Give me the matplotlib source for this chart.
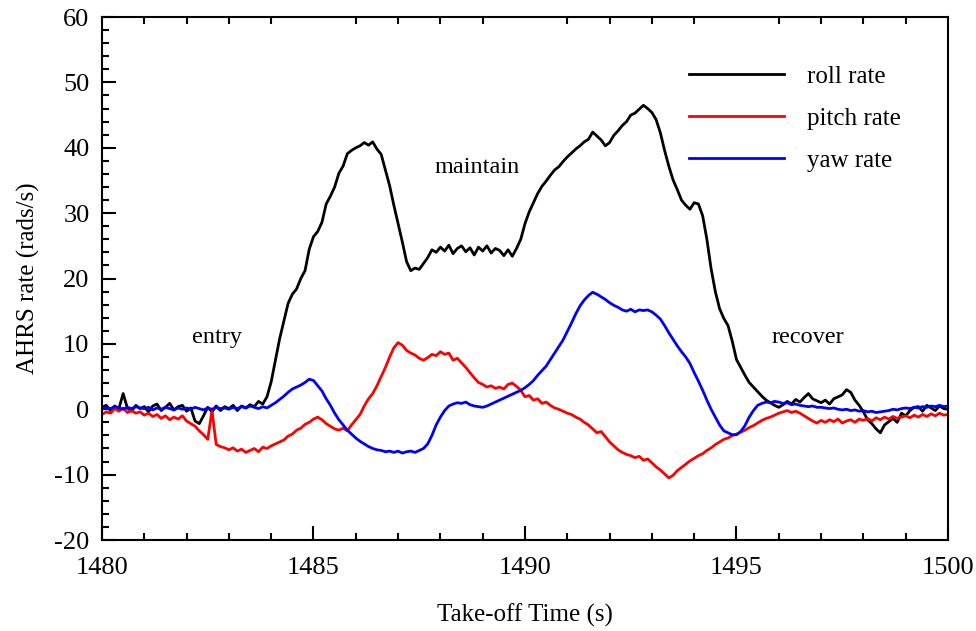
import numpy as np
import matplotlib
matplotlib.use('Agg')
import matplotlib.pyplot as plt
from matplotlib.ticker import MultipleLocator

# time axis, one reading every 0.1 s
t = np.round(np.arange(1480.0, 1500.05, 0.1), 1)

roll = [
    0.3, 0.6, -0.2, 0.5, 0.1, 2.4, 0.2, -0.3, 0.6, 0.1,
    0.4, -0.4, 0.5, 0.8, -0.2, 0.3, 0.9, -0.1, 0.4, 0.6,
    -0.3, 0.2, -1.8, -2.2, -1.0, 0.3, -0.4, 0.5, -0.2, 0.4,
    0.1, 0.6, -0.2, 0.5, 0.2, 0.7, 0.4, 1.2, 0.8, 1.9,
    4.2, 7.5, 10.8, 13.5, 16.2, 17.6, 18.4, 20.0, 21.2, 24.5,
    26.4, 27.2, 28.6, 31.4, 32.6, 34.0, 36.1, 37.2, 39.1, 39.6,
    40.0, 40.3, 40.8, 40.4, 40.9, 39.8, 39.0, 36.6, 34.2, 31.2,
    28.4, 25.6, 22.6, 21.2, 21.6, 21.4, 22.3, 23.2, 24.4, 24.0,
    24.8, 24.2, 25.1, 23.8, 24.6, 25.0, 24.1, 24.7, 23.6, 24.8,
    24.2, 25.0, 23.9, 24.6, 24.3, 23.5, 24.4, 23.4, 24.6, 26.0,
    28.4, 30.2, 31.6, 33.0, 34.1, 34.9, 35.8, 36.6, 37.1, 37.9,
    38.6, 39.2, 39.8, 40.3, 40.9, 41.3, 42.4, 41.8, 41.2, 40.3,
    40.8, 41.9, 42.6, 43.4, 44.0, 45.0, 45.3, 45.9, 46.5, 46.0,
    45.4, 44.3, 42.3, 39.6, 37.2, 35.1, 33.6, 32.0, 31.2, 30.6,
    31.6, 31.4, 29.6, 26.0, 21.5, 18.0, 15.4, 13.9, 12.8, 10.4,
    7.6, 6.4, 5.2, 4.1, 3.4, 2.7, 2.0, 1.4, 1.0, 0.6,
    0.3, 0.7, 1.2, 0.8, 1.5, 1.1, 1.8, 2.4, 1.6, 1.3,
    1.0, 1.4, 0.8, 1.6, 1.9, 2.2, 3.0, 2.6, 1.4, 0.6,
    -0.4, -1.6, -2.2, -3.0, -3.6, -2.4, -1.9, -1.4, -2.0, -0.6,
    -1.0, -0.2, 0.3, 0.4, -0.3, 0.6, 0.2, -0.2, 0.5, 0.1,
    0.0,
]

pitch = [
    -0.8, -0.4, -0.6, 0.1, -0.3, 0.2, -0.5, -0.2, -0.6, -0.4,
    -0.9, -0.6, -1.1, -0.8, -1.4, -1.0, -1.6, -1.2, -1.5, -1.0,
    -1.8, -2.2, -2.6, -3.3, -3.9, -4.6, -0.2, -5.4, -5.7, -5.9,
    -6.2, -5.9, -6.4, -6.1, -6.6, -6.3, -6.0, -6.5, -5.8, -6.0,
    -5.6, -5.3, -5.0, -4.7, -4.1, -3.8, -3.2, -2.9, -2.3, -2.0,
    -1.5, -1.2, -1.6, -2.2, -2.6, -3.0, -3.2, -2.9, -3.3, -2.4,
    -1.6, -0.8, 0.5, 1.6, 2.4, 3.6, 5.0, 6.4, 8.0, 9.4,
    10.2, 9.8, 9.0, 8.6, 8.3, 7.8, 7.5, 7.9, 8.4, 8.2,
    8.8, 8.4, 8.6, 7.5, 7.8, 7.1, 6.4, 5.6, 4.8, 4.1,
    3.8, 3.4, 3.6, 3.2, 3.4, 3.1, 3.8, 4.0, 3.5, 2.9,
    1.9, 2.1, 1.4, 1.6, 0.9, 1.1, 0.6, 0.2, 0.0, -0.3,
    -0.6, -0.8, -1.2, -1.5, -2.0, -2.4, -3.0, -3.6, -3.4, -4.2,
    -5.0, -5.6, -6.2, -6.6, -6.9, -7.1, -7.4, -7.2, -7.8, -7.6,
    -8.2, -8.8, -9.3, -9.9, -10.5, -10.1, -9.4, -8.9, -8.4, -7.9,
    -7.5, -7.1, -6.8, -6.3, -5.9, -5.4, -5.0, -4.6, -4.4, -4.0,
    -3.8, -3.5, -3.2, -2.8, -2.5, -2.1, -1.7, -1.4, -1.2, -0.9,
    -0.6, -0.4, -0.2, -0.5, -0.3, -0.6, -1.0, -1.4, -1.8, -2.1,
    -1.7, -2.0, -1.6, -1.9, -1.5, -2.1, -1.8, -1.6, -2.0, -1.5,
    -1.7, -1.4, -1.8, -1.3, -1.6, -1.2, -1.5, -1.1, -1.4, -1.2,
    -1.0, -1.3, -0.9, -1.2, -0.8, -1.1, -0.7, -1.0, -0.6, -0.9,
    -0.8,
]

yaw = [
    0.0, 0.3, 0.1, 0.4, 0.2, 0.0, 0.3, 0.1, 0.4, 0.2,
    0.1, 0.3, -0.1, 0.2, 0.0, 0.3, 0.1, -0.1, 0.2, 0.0,
    0.2, 0.0, 0.3, 0.1, -0.1, 0.2, 0.0, 0.3, 0.1, 0.2,
    0.0, 0.3, 0.1, 0.4, 0.2, 0.5, 0.3, 0.1, 0.4, 0.2,
    0.6, 1.0, 1.5, 2.0, 2.6, 3.1, 3.4, 3.7, 4.1, 4.6,
    4.4, 3.6, 2.8, 1.6, 0.6, -0.6, -1.6, -2.4, -3.2, -3.8,
    -4.4, -4.9, -5.3, -5.7, -6.0, -6.2, -6.3, -6.5, -6.4, -6.6,
    -6.4, -6.7, -6.5, -6.4, -6.6, -6.3, -6.0, -5.3, -4.0, -2.4,
    -1.2, -0.2, 0.5, 0.8, 1.0, 0.9, 1.1, 0.7, 0.5, 0.4,
    0.3, 0.5, 0.8, 1.1, 1.4, 1.7, 2.0, 2.3, 2.6, 2.9,
    3.3, 3.8, 4.4, 5.2, 5.9, 6.6, 7.6, 8.6, 9.6, 10.6,
    11.9, 13.2, 14.6, 15.8, 16.7, 17.4, 17.9, 17.6, 17.2, 16.8,
    16.3, 15.9, 15.6, 15.2, 15.0, 15.3, 14.9, 15.2, 15.1, 15.2,
    14.9, 14.4, 13.8, 12.8, 11.7, 10.7, 9.7, 8.8, 8.0, 7.0,
    5.6, 4.3, 2.9, 1.4, 0.0, -1.2, -2.4, -3.3, -3.6, -3.9,
    -3.9, -3.4, -2.5, -1.2, -0.2, 0.6, 0.9, 1.1, 1.0, 1.2,
    1.1, 0.9, 1.0, 0.7, 0.8, 0.6, 0.5, 0.4, 0.5, 0.3,
    0.3, 0.2, 0.1, 0.2, 0.0, -0.1, 0.0, -0.2, -0.1, -0.3,
    -0.2, -0.4, -0.3, -0.5, -0.4, -0.3, -0.2, 0.0, -0.1, 0.1,
    0.2, 0.1, 0.3, 0.2, 0.4, 0.3, 0.5, 0.4, 0.6, 0.4,
    0.5,
]

phases = ['entry', 'maintain', 'recover']
phase_x = [1482.72, 1488.87, 1496.69]
phase_y = [11.0, 37.0, 11.0]

plt.rcParams['font.family'] = ['Liberation Serif', 'DejaVu Serif']
plt.rcParams['axes.unicode_minus'] = False

fig = plt.figure(figsize=(9.76, 6.31), dpi=100)
ax = fig.add_axes([0.1045, 0.1442, 0.8668, 0.8288])

ax.plot(t, roll, 'k', lw=2, label='roll rate')
ax.plot(t, pitch, color='#ff0000', lw=2, label='pitch rate')
ax.plot(t, yaw, color='#0000ff', lw=2, label='yaw rate')

for name, x, y in zip(phases, phase_x, phase_y):
    ax.text(x, y, name, fontsize=17.5, ha='center', va='center')

ax.set_xlim(1480, 1500)
ax.set_ylim(-20, 60)
ax.xaxis.set_major_locator(MultipleLocator(5))
ax.xaxis.set_minor_locator(MultipleLocator(1))
ax.yaxis.set_major_locator(MultipleLocator(10))
ax.yaxis.set_minor_locator(MultipleLocator(2))
ax.tick_params(which='both', direction='in', width=1.5, labelsize=19)
ax.tick_params(which='major', length=10)
ax.tick_params(which='minor', length=5, top=True)
ax.tick_params(axis='x', which='major', pad=12)
ax.tick_params(axis='y', which='major', pad=9)
for s in ax.spines.values():
    s.set_linewidth(1.5)

ax.set_xlabel('Take-off Time (s)', fontsize=18, labelpad=18)
ax.set_ylabel('AHRS rate (rads/s)', fontsize=18, labelpad=10)

ax.legend(loc='upper left', bbox_to_anchor=(0.679, 0.931), frameon=False,
          fontsize=18, handlelength=3.8, labelspacing=0.78, handletextpad=0.92,
          borderpad=0)

fig.savefig('out.png', dpi=100)
